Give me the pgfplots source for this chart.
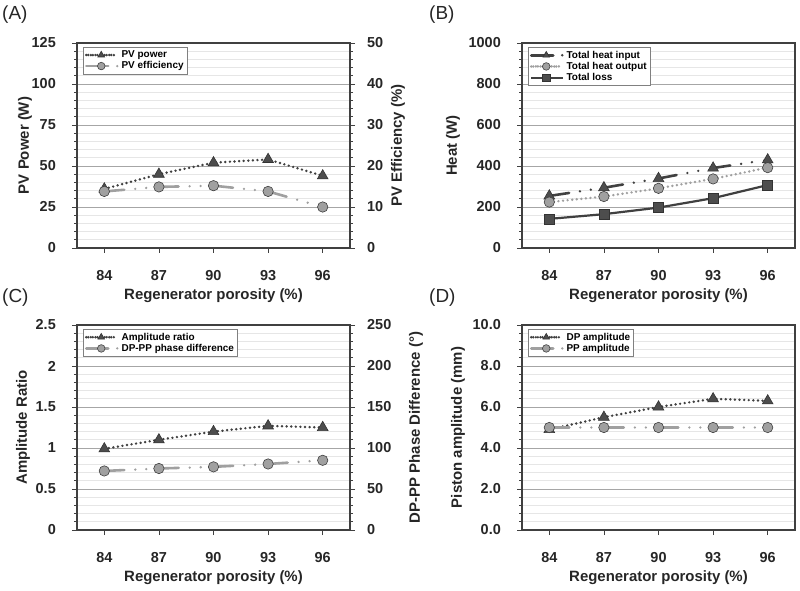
\documentclass[border=0pt]{standalone}
\usepackage{fontspec}
\setmainfont{Liberation Sans}
\usepackage{pgfplots}
\pgfplotsset{compat=1.18}
\definecolor{dk}{HTML}{404040}
\definecolor{mk}{HTML}{4D4D4D}
\definecolor{lg}{HTML}{A0A0A0}
\definecolor{gridmaj}{HTML}{A6A6A6}
\definecolor{gridmin}{HTML}{E6E6E6}
\newcommand{\tf}{\bfseries\fontsize{14.5}{16}\selectfont}
\newcommand{\lf}{\bfseries\fontsize{15}{17}\selectfont}
\pgfplotsset{
 common/.style={
  scale only axis, width=273bp, height=205bp,
  xmin=82.5, xmax=97.5, xtick={84,87,90,93,96},
  tick align=outside, major tick length=5bp, minor tick length=3bp,
  every tick/.style={dk, line width=0.8bp},
  minor y tick num=4,
  tick label style={font=\tf, text=black!85},
  /pgf/number format/assume math mode=true,
  /pgf/number format/1000 sep={},
  label style={font=\lf, text=black!85},
 },
 base/.style={common,
  xtick pos=left, ytick pos=left,
  axis line style={dk, line width=1.2bp},
  ymajorgrids, yminorgrids,
  major grid style={gridmaj, line width=0.8bp},
  minor grid style={gridmin, line width=0.6bp},
  xticklabel style={anchor=center, yshift=-23bp},
  yticklabel style={anchor=east, inner sep=0pt, xshift=-16bp},
  xlabel={Regenerator porosity (\%)},
  xlabel style={at={(axis description cs:0.5,-0.234)}, anchor=center},
  legend style={at={(0,1)}, anchor=north west, xshift=6bp, yshift=-4bp,
    font=\bfseries\fontsize{10}{12}\selectfont, draw=gray, line width=0.8bp,
    inner sep=1.5bp, row sep=-1.5bp, cells={anchor=west}, fill=white},
  legend image code/.code={\path (0bp,0bp) -- (32bp,0bp);\draw[mark repeat=2,mark phase=2,##1] plot coordinates {(2bp,0bp) (15bp,0bp) (28bp,0bp)};},
  legend image post style={mark size=3.8bp},
 },
 base2/.style={common,
  axis x line=none, axis y line*=right,
  axis line style={-, dk, line width=1.2bp},
  ytick pos=right,
  yticklabel style={anchor=west, inner sep=0pt, xshift=12bp},
 },
 dotline/.style={dk, line width=2.7bp, line cap=round, dash pattern=on 0bp off 4.6bp},
 dotlight/.style={lg, line width=2.7bp, line cap=round, dash pattern=on 0bp off 4.6bp},
 ldd/.style={line width=2.6bp, line cap=round, dash pattern=on 20bp off 11bp on 0bp off 11bp on 0bp off 12.5bp},
 tri/.style={mark=triangle*, mark size=6.2bp, mark options={solid, fill=mk, draw=dk!80!black, line width=0.6bp}},
 circ/.style={mark=*, mark size=5.2bp, mark options={solid, fill=lg, draw=dk, line width=0.6bp}},
 sq/.style={mark=square*, mark size=5bp, mark options={solid, fill=mk, draw=dk!80!black, line width=0.6bp}},
}
\begin{document}
\begin{tikzpicture}
\useasboundingbox (0,0) rectangle (800bp,591bp);
% ---------- (A)
\begin{axis}[base, at={(77bp,343bp)}, anchor=south west,
  ymin=0, ymax=125, ytick={0,25,...,125},
  ylabel={PV Power (W)}, ylabel style={at={(axis description cs:-0.19,0.5)}, anchor=center}]
\addplot[dotline, tri] coordinates {(84,36) (87,45) (90,52) (93,54) (96,44)};
\addlegendentry{PV power}
\addlegendimage{lg, ldd, circ}
\addlegendentry{PV efficiency}
\end{axis}
\begin{axis}[base2, at={(77bp,343bp)}, anchor=south west,
  ymin=0, ymax=50, ytick={0,10,...,50},
  ylabel={PV Efficiency (\%)}, ylabel style={at={(axis description cs:1.176,0.5)}, anchor=center}]
\addplot[lg, ldd, circ] coordinates {(84,13.8) (87,14.9) (90,15.2) (93,13.8) (96,10.0)};
\end{axis}
% ---------- (B)
\begin{axis}[base, at={(522bp,343bp)}, anchor=south west,
  ymin=0, ymax=1000, ytick={0,200,...,1000},
  ylabel={Heat (W)}, ylabel style={at={(axis description cs:-0.253,0.5)}, anchor=center}]
\addplot[dk, ldd, tri] coordinates {(84,254) (87,294) (90,339) (93,390) (96,430)};
\addlegendentry{Total heat input}
\addplot[dotlight, circ] coordinates {(84,224) (87,251) (90,291) (93,337) (96,392)};
\addlegendentry{Total heat output}
\addplot[dk, line width=2.2bp, sq] coordinates {(84,142) (87,165) (90,197) (93,243) (96,307)};
\addlegendentry{Total loss}
\end{axis}
% ---------- (C)
\begin{axis}[base, at={(77bp,61bp)}, anchor=south west,
  ymin=0, ymax=2.5, ytick={0,0.5,...,2.5},
  ylabel={Amplitude Ratio}, ylabel style={at={(axis description cs:-0.198,0.5)}, anchor=center}]
\addplot[dotline, tri] coordinates {(84,0.99) (87,1.10) (90,1.20) (93,1.27) (96,1.25)};
\addlegendentry{Amplitude ratio}
\addlegendimage{lg, ldd, circ}
\addlegendentry{DP-PP phase difference}
\end{axis}
\begin{axis}[base2, at={(77bp,61bp)}, anchor=south west,
  ymin=0, ymax=250, ytick={0,50,...,250},
  ylabel={DP-PP Phase Difference (°)}, ylabel style={at={(axis description cs:1.242,0.5)}, anchor=center}]
\addplot[lg, ldd, circ] coordinates {(84,72) (87,75) (90,77) (93,80.5) (96,85)};
\end{axis}
% ---------- (D)
\begin{axis}[base, at={(522bp,61bp)}, anchor=south west,
  ymin=0, ymax=10, ytick={0,2,...,10},
  yticklabel style={/pgf/number format/.cd, fixed, fixed zerofill, precision=1},
  ylabel={Piston amplitude (mm)}, ylabel style={at={(axis description cs:-0.234,0.5)}, anchor=center}]
\addplot[dotline, tri] coordinates {(84,4.9) (87,5.5) (90,6.0) (93,6.4) (96,6.3)};
\addlegendentry{DP amplitude}
\addplot[lg, ldd, circ] coordinates {(84,5.0) (87,5.0) (90,5.0) (93,5.0) (96,5.0)};
\addlegendentry{PP amplitude}
\end{axis}
% panel labels
\node[anchor=west, inner sep=0pt, font=\fontsize{19}{21}\selectfont, text=black!85] at (2bp,576bp) {(A)};
\node[anchor=west, inner sep=0pt, font=\fontsize{19}{21}\selectfont, text=black!85] at (429bp,576bp) {(B)};
\node[anchor=west, inner sep=0pt, font=\fontsize{19}{21}\selectfont, text=black!85] at (2bp,293bp) {(C)};
\node[anchor=west, inner sep=0pt, font=\fontsize{19}{21}\selectfont, text=black!85] at (429bp,293bp) {(D)};
\end{tikzpicture}
\end{document}
